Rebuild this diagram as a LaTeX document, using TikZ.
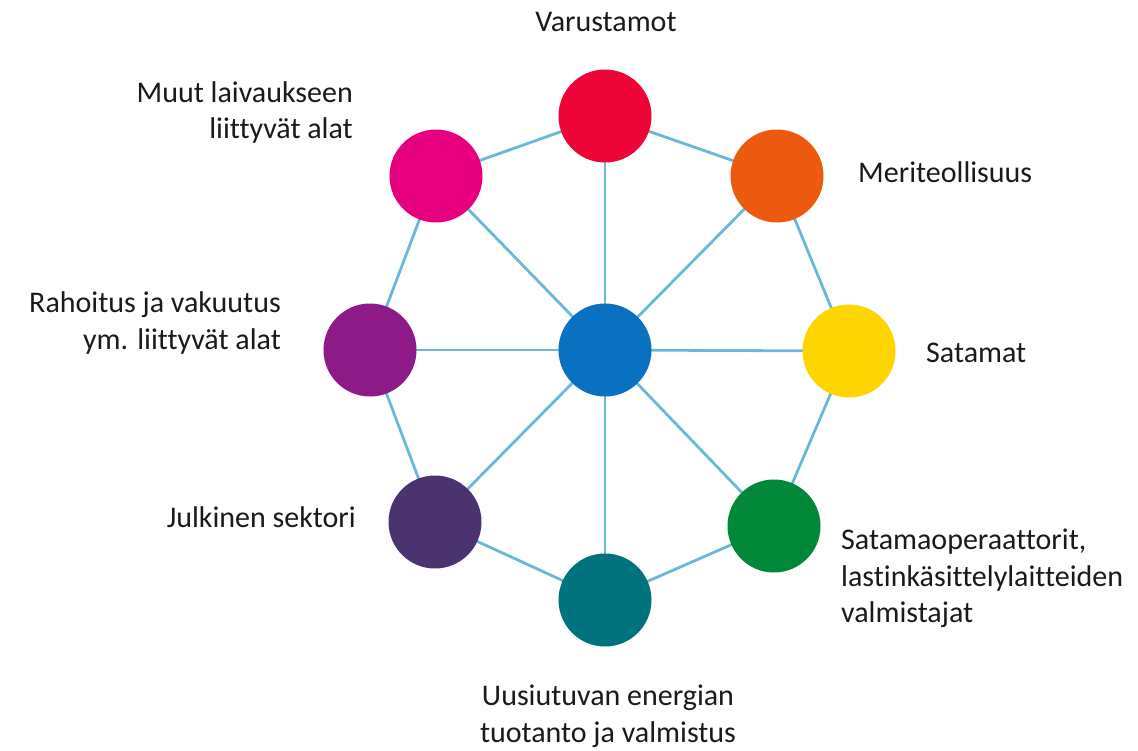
\documentclass[tikz,border=0pt]{standalone}
\usepackage{fontspec}
\setmainfont[Ligatures={NoCommon,NoRare,NoContextual},Contextuals=NoAlternate,RawFeature={-liga;-clig;-calt;-dlig}]{Carlito}
\usetikzlibrary{backgrounds}
\definecolor{linkc}{HTML}{6AB8D8}
\definecolor{cred}{HTML}{EE0537}
\definecolor{cpink}{HTML}{E6007E}
\definecolor{corange}{HTML}{EC5A12}
\definecolor{cyellow}{HTML}{FFD500}
\definecolor{cpurple}{HTML}{8C1B87}
\definecolor{cdpurple}{HTML}{4A336E}
\definecolor{cteal}{HTML}{00737C}
\definecolor{cgreen}{HTML}{008838}
\definecolor{cblue}{HTML}{0A70C0}
\definecolor{txt}{HTML}{1A1A1A}
\tikzset{
  hub/.style={circle, minimum size=93pt, inner sep=0pt, fill=#1},
  link/.style={draw=linkc, line width=2.8pt},
  lbl/.style={font=\fontsize{30}{37}\selectfont, text=txt, inner sep=0pt}
}
\begin{document}
\begin{tikzpicture}[x=1pt,y=-1pt]
\useasboundingbox (0,0) rectangle (1138,750);
\node[hub=cblue]    (c) at (605,350) {};
\node[hub=cred]     (v) at (605,116) {};
\node[hub=corange]  (m) at (777,176) {};
\node[hub=cyellow]  (s) at (849,351) {};
\node[hub=cgreen]   (o) at (774,526) {};
\node[hub=cteal]    (u) at (605,600) {};
\node[hub=cdpurple] (j) at (435,522) {};
\node[hub=cpurple]  (r) at (370,350) {};
\node[hub=cpink]    (p) at (436,176) {};
\begin{scope}[on background layer]
\foreach \n in {v,m,s,o,u,j,r,p} \draw[link] (c.center) -- (\n.center);
\draw[link] (v.center) -- (m.center) -- (s.center) -- (o.center) -- (u.center) -- (j.center) -- (r.center) -- (p.center) -- (v.center);
\end{scope}
\node[lbl, anchor=base] (tv) at (606,31) {Varustamot};
\node[lbl, anchor=base west] (tm) at (858,182) {Meriteollisuus};
\node[lbl, anchor=base west] (ts) at (926,362) {Satamat};
\node[lbl, anchor=base west] (to1) at (841,549) {Satamaoperaattorit,};
\node[lbl, anchor=base west] (to2) at (841,586) {lastinkäsittelylaitteiden};
\node[lbl, anchor=base west] (to3) at (841,622) {valmistajat};
\node[lbl, anchor=base] (tu1) at (608,705) {Uusiutuvan energian};
\node[lbl, anchor=base] (tu2) at (608,742) {tuotanto ja valmistus};
\node[lbl, anchor=base east] (tj) at (356,527) {Julkinen sektori};
\node[lbl, anchor=base east] (tr1) at (281,312) {Rahoitus ja vakuutus};
\node[lbl, anchor=base east] (tr2) at (281,349) {ym. liittyvät alat};
\node[lbl, anchor=base east] (tp1) at (353,102) {Muut laivaukseen};
\node[lbl, anchor=base east] (tp2) at (353,138) {liittyvät alat};
\end{tikzpicture}
\end{document}
